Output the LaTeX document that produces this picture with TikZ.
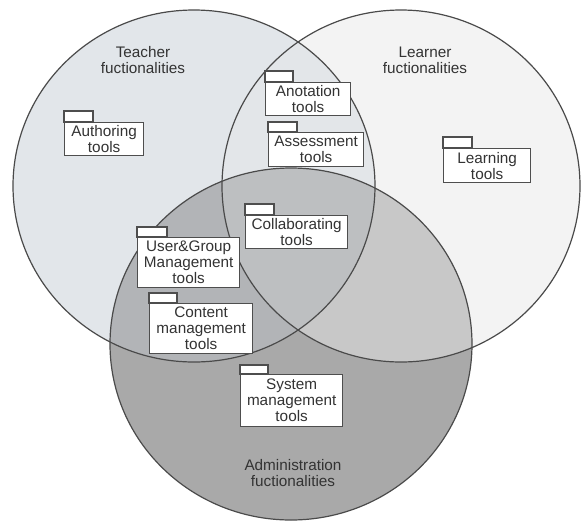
\documentclass[tikz,border=0pt]{standalone}
\usepackage{fontspec}
\setmainfont{Liberation Sans}
\definecolor{txt}{HTML}{333333}
\definecolor{edge}{HTML}{4E4E4E}
\definecolor{ringc}{HTML}{4A4A4A}
\definecolor{cT}{HTML}{E2E6EA}
\definecolor{cL}{HTML}{F3F3F3}
\definecolor{cTL}{HTML}{E3E6E9}
\definecolor{cA}{HTML}{A9A9A9}
\definecolor{cTA}{HTML}{B2B4B7}
\definecolor{cLA}{HTML}{C8C8C8}
\definecolor{cTLA}{HTML}{BDBFC1}
\begin{document}
\begin{tikzpicture}[x=1pt,y=-1pt,
  every node/.style={font=\fontsize{15.3}{16}\selectfont, text=txt},
  pkgbody/.style={draw=edge, line width=1.3pt, fill=white, anchor=north west,
                  inner sep=0pt, align=center},
  pkgtab/.style={draw=edge, line width=1.3pt, fill=white},
  ring/.style={draw=ringc, line width=1.2pt}]

\useasboundingbox[fill=white] (0,0) rectangle (581,523);

% the three functionality areas
\def\teacherset{(194,186) ellipse [x radius=181, y radius=176]}
\def\learnerset{(401,186) ellipse [x radius=179, y radius=176]}
\def\adminset{(291,344) ellipse [x radius=181, y radius=176]}

\fill[cT] \teacherset;
\fill[cL] \learnerset;
\fill[cA] \adminset;
\begin{scope}
  \clip \teacherset;
  \fill[cTL] \learnerset;
  \fill[cTA] \adminset;
\end{scope}
\begin{scope}
  \clip \learnerset;
  \fill[cLA] \adminset;
\end{scope}
\begin{scope}
  \clip \teacherset;
  \clip \learnerset;
  \fill[cTLA] \adminset;
\end{scope}
\draw[ring] \teacherset;
\draw[ring] \learnerset;
\draw[ring] \adminset;

% area titles
\node[align=center] (teacherlbl) at (143,60) {Teacher\\fuctionalities};
\node[align=center] (learnerlbl) at (425,60) {Learner\\fuctionalities};
\node[align=center] (adminlbl) at (293,473) {Administration\\fuctionalities};

% packages: body first, then the tab on its upper left corner
\node[pkgbody, minimum width=79pt, minimum height=33pt] (auth) at (64,122) {Authoring\\tools};
\draw[pkgtab] (auth.north west) rectangle ++(29,-11);

\node[pkgbody, minimum width=85pt, minimum height=33pt] (anot) at (265,82) {Anotation\\tools};
\draw[pkgtab] (anot.north west) rectangle ++(28,-11);

\node[pkgbody, minimum width=95pt, minimum height=34pt] (assess) at (268,132) {Assessment\\tools};
\draw[pkgtab] (assess.north west) rectangle ++(29,-10);

\node[pkgbody, minimum width=87pt, minimum height=34pt] (learn) at (443,148) {Learning\\tools};
\draw[pkgtab] (learn.north west) rectangle ++(29,-11);

\node[pkgbody, minimum width=102pt, minimum height=33pt] (collab) at (245,215) {Collaborating\\tools};
\draw[pkgtab] (collab.north west) rectangle ++(29,-11);

\node[pkgbody, minimum width=102pt, minimum height=50pt] (usergroup) at (137,237) {User\&Group\\Management\\tools};
\draw[pkgtab] (usergroup.north west) rectangle ++(30,-10);

\node[pkgbody, minimum width=103pt, minimum height=50pt] (content) at (149,303) {Content\\management\\tools};
\draw[pkgtab] (content.north west) rectangle ++(28,-10);

\node[pkgbody, minimum width=102pt, minimum height=52pt] (system) at (240,374) {System\\management\\tools};
\draw[pkgtab] (system.north west) rectangle ++(28,-9);

\end{tikzpicture}
\end{document}
